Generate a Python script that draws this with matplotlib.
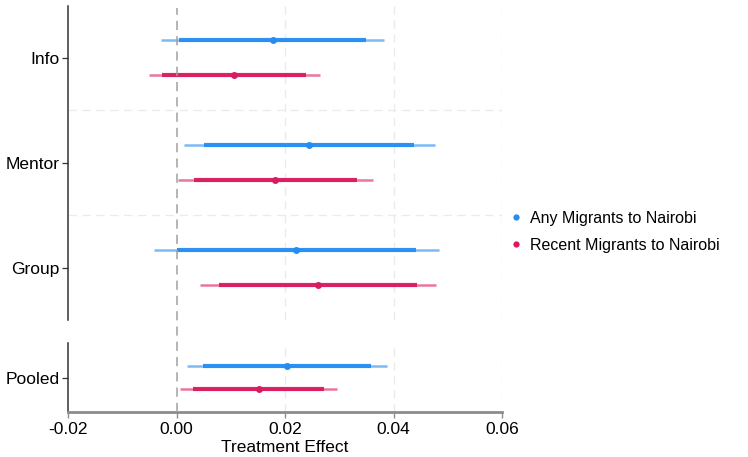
import matplotlib
matplotlib.use("Agg")
import matplotlib.pyplot as plt
from matplotlib.lines import Line2D

plt.rcParams['font.family'] = ['Liberation Sans', 'DejaVu Sans']

# Treatment arms (top panel) and pooled estimate (bottom panel)
arms = ["Info", "Mentor", "Group"]
series = ["Any Migrants to Nairobi", "Recent Migrants to Nairobi"]
colors = ["#258DF2", "#D91B5F"]

# Point estimates per arm, per series
est_any = [0.0177, 0.0244, 0.0221]
est_recent = [0.0106, 0.0182, 0.0261]
# 90% intervals (thick)
lo90_any = [0.0004, 0.0050, 0.0001]
hi90_any = [0.0349, 0.0438, 0.0441]
lo90_recent = [-0.0026, 0.0033, 0.0079]
hi90_recent = [0.0239, 0.0333, 0.0443]
# 95% intervals (thin)
lo95_any = [-0.0028, 0.0014, -0.0041]
hi95_any = [0.0383, 0.0476, 0.0484]
lo95_recent = [-0.0051, 0.0003, 0.0044]
hi95_recent = [0.0264, 0.0362, 0.0478]

# Pooled estimates
pooled_est = [0.0204, 0.0152]
pooled_lo90 = [0.0049, 0.0030]
pooled_hi90 = [0.0359, 0.0272]
pooled_lo95 = [0.0020, 0.0007]
pooled_hi95 = [0.0388, 0.0296]

xticks = [-0.02, 0.00, 0.02, 0.04, 0.06]
xticklabels = ["-0.02", "0.00", "0.02", "0.04", "0.06"]

W, H = 748, 457
fig = plt.figure(figsize=(W / 100, H / 100), dpi=100)

left, right = 68 / W, 502 / W
ax_top = fig.add_axes([left, 1 - 320 / H, right - left, (320 - 5.5) / H])
ax_bot = fig.add_axes([left, 1 - 412 / H, right - left, (412 - 343) / H])

grid_col = "#EBEBEB"
off = 1 / 6


def draw_row(ax, y, est, lo90, hi90, lo95, hi95, color):
    ax.hlines(y, lo95, hi95, color=color, lw=1.8, alpha=0.6, zorder=3)
    ax.hlines(y, lo90, hi90, color=color, lw=3.0, alpha=0.95, zorder=4)
    ax.plot([est], [y], "o", color=color, ms=5, mew=0, zorder=5)


for ax in (ax_top, ax_bot):
    ax.set_xlim(-0.02, 0.06)
    for xv in xticks[2:]:
        ax.axvline(xv, color=grid_col, lw=1.0, ls=(0, (6, 4)), zorder=1)
    for s in ("top", "right"):
        ax.spines[s].set_visible(False)
    ax.spines["left"].set_color("#333333")
    ax.spines["left"].set_linewidth(1.1)
    ax.tick_params(axis="y", length=4, width=0.9, color="#333333",
                   labelsize=12.5, pad=2, labelcolor="black")

# Top panel: three arms
n = len(arms)
ypos = [n - i for i in range(n)]
ax_top.set_ylim(0.5, n + 0.5)
for k in range(1, n):
    ax_top.axhline(k + 0.5, color=grid_col, lw=1.0, ls=(0, (6, 4)), zorder=1)
for i in range(n):
    draw_row(ax_top, ypos[i] + off, est_any[i], lo90_any[i], hi90_any[i],
             lo95_any[i], hi95_any[i], colors[0])
    draw_row(ax_top, ypos[i] - off, est_recent[i], lo90_recent[i],
             hi90_recent[i], lo95_recent[i], hi95_recent[i], colors[1])
ax_top.set_yticks(ypos)
ax_top.set_yticklabels(arms)
ax_top.spines["bottom"].set_visible(False)
ax_top.set_xticks([])

# Bottom panel: pooled
ax_bot.set_ylim(0.5, 1.5)
for j in range(2):
    yy = 1 + off if j == 0 else 1 - off
    draw_row(ax_bot, yy, pooled_est[j], pooled_lo90[j], pooled_hi90[j],
             pooled_lo95[j], pooled_hi95[j], colors[j])
ax_bot.set_yticks([1])
ax_bot.set_yticklabels(["Pooled"])
ax_bot.spines["bottom"].set_color("#8C8C8C")
ax_bot.spines["bottom"].set_linewidth(2.0)
ax_bot.set_xticks(xticks)
ax_bot.set_xticklabels(xticklabels)
ax_bot.tick_params(axis="x", length=4, width=1.0, color="#8C8C8C",
                   labelsize=12.5, pad=3, labelcolor="black")
ax_bot.set_xlabel("Treatment Effect", fontsize=12.5, labelpad=2)

# Zero reference line spanning both panels
x0 = left + (0 - (-0.02)) / 0.08 * (right - left)
fig.add_artist(Line2D([x0, x0], [1 - 412 / H, 1 - 8 / H],
                      transform=fig.transFigure, color="#A0A0A0", lw=1.1,
                      ls=(0, (6, 4)), zorder=2))

handles = [Line2D([], [], marker="o", ls="none", color=c, ms=4.5, mew=0)
           for c in colors]
fig.legend(handles, series, loc="center left", bbox_to_anchor=(498 / W, 1 - 232 / H),
           frameon=False, fontsize=11.5, handletextpad=0.3, labelspacing=0.75,
           handlelength=1.2, borderpad=0)

fig.savefig("out.png", dpi=100)
